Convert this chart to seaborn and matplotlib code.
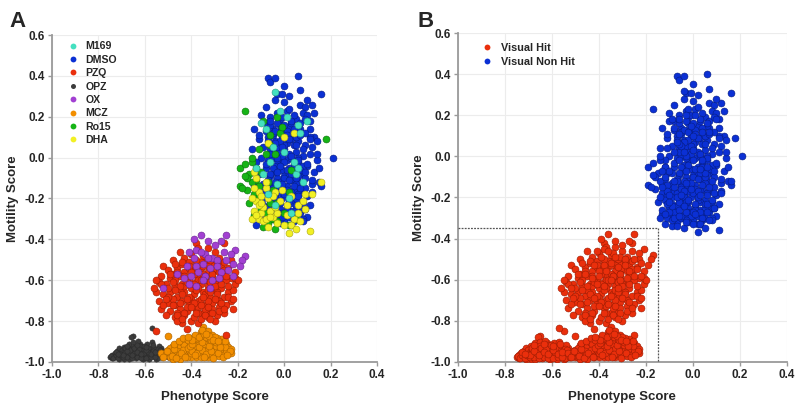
import matplotlib
matplotlib.use("Agg")
import matplotlib.pyplot as plt
from matplotlib.lines import Line2D
import seaborn as sns
import pandas as pd

# ---------------- data ----------------
dmso_x = [-0.07,-0.06,-0.04,0.06,0.16,0.21,0.12,-0.03,-0.01,0.02,0.07,0.09,-0.04,0.00,0.08,0.10,-0.10,-0.06,-0.03,0.01,
          0.05,-0.08,-0.05,-0.02,0.02,0.04,0.07,0.11,0.13,-0.13,-0.11,-0.07,-0.04,-0.01,0.01,0.03,0.06,0.09,0.12,-0.09,
          -0.06,-0.03,0.00,0.02,0.05,0.08,0.11,0.14,-0.10,-0.07,-0.05,-0.02,0.01,0.04,0.06,0.10,-0.08,-0.04,-0.01,0.02,
          0.05,0.08,0.13,-0.11,-0.06,-0.03,0.00,0.03,0.06,0.09,0.12,0.16,-0.09,-0.05,-0.02,0.01,0.04,0.07,0.10,-0.13,
          -0.07,-0.04,-0.01,0.02,0.05,0.08,0.11,-0.09,-0.05,-0.02,0.01,0.03,0.07,0.10,-0.06,-0.03,0.00,0.04,0.08,-0.12,
          -0.02,0.02,-0.03,0.00,-0.02,0.03,-0.05,0.04,-0.01,0.02,-0.04,0.05,-0.02,0.01,-0.05,0.06,0.03,-0.01,0.05,-0.07,
          0.09,0.08,0.06,-0.08,0.11,0.14,0.10,0.12,0.15,0.04,-0.01,0.07,-0.09,-0.10,0.00,-0.03,0.03,0.01,-0.06,0.09,
          0.05,-0.02,
          -0.06,-0.03,0.00,0.03,0.06,-0.05,-0.02,0.01,0.04,0.07,-0.07,-0.04,-0.01,0.02,0.05,0.08,-0.06,-0.03,0.00,0.03,
          0.06,-0.08,-0.05,-0.02,0.01,0.04,0.07,-0.06,-0.03,0.00,0.03,0.06,0.09,-0.07,-0.04,-0.01,0.02,0.05,-0.05,-0.02,
          0.01,0.04,0.07,-0.08,-0.04,0.00,0.03,0.06,-0.06,-0.02,0.02,0.05,0.08,-0.07,-0.03,0.01,0.04,-0.05,-0.01,0.03,
          0.11,0.13,0.10,0.14,0.12,0.09,0.15,0.11,-0.11,-0.12,-0.09,-0.14,-0.10,0.07,0.09,0.08,-0.08,0.00,0.02,-0.04]
dmso_y = [0.39,0.37,0.39,0.40,0.31,0.00,0.26,0.31,0.31,0.30,0.26,0.25,0.28,0.27,0.22,0.21,0.21,0.20,0.22,0.23,
          0.19,0.17,0.14,0.16,0.15,0.12,0.14,0.14,0.10,0.14,0.09,0.10,0.08,0.10,0.07,0.09,0.08,0.06,0.05,0.05,
          0.04,0.03,0.04,0.02,0.03,0.01,0.02,-0.01,0.00,-0.01,0.00,-0.02,-0.01,-0.03,-0.02,-0.04,-0.05,-0.04,-0.06,-0.05,
          -0.07,-0.08,-0.07,-0.08,-0.09,-0.10,-0.09,-0.11,-0.12,-0.10,-0.13,-0.14,-0.13,-0.14,-0.15,-0.14,-0.16,-0.17,-0.19,-0.14,
          -0.18,-0.19,-0.20,-0.19,-0.21,-0.22,-0.23,-0.23,-0.24,-0.25,-0.24,-0.26,-0.27,-0.29,-0.28,-0.29,-0.31,-0.31,-0.30,-0.33,
          -0.32,-0.29,0.05,0.12,0.19,0.17,0.11,0.06,0.01,-0.08,-0.07,-0.13,-0.12,-0.17,-0.21,-0.18,-0.22,-0.27,-0.25,-0.26,
          -0.15,-0.04,0.00,0.13,0.10,0.08,-0.03,-0.11,-0.12,0.21,0.20,0.17,-0.20,-0.16,0.06,-0.01,0.00,0.13,0.16,0.12,
          0.10,0.08,
          0.18,0.17,0.16,0.18,0.15,0.12,0.13,0.11,0.14,0.11,0.08,0.07,0.05,0.09,0.06,0.04,0.02,0.00,-0.02,0.01,
          -0.01,-0.03,-0.05,-0.04,-0.06,-0.05,-0.06,-0.08,-0.07,-0.10,-0.08,-0.09,-0.07,-0.11,-0.12,-0.13,-0.11,-0.10,-0.15,-0.17,
          -0.16,-0.14,-0.15,-0.17,-0.20,-0.18,-0.17,-0.19,-0.21,-0.22,-0.21,-0.23,-0.25,-0.24,-0.27,-0.26,-0.28,-0.30,-0.29,-0.33,
          0.18,0.22,0.28,0.02,-0.17,-0.25,-0.05,0.09,0.11,-0.02,-0.29,0.04,-0.28,0.33,0.19,-0.31,0.25,0.35,0.24,0.13]

m169_x = [-0.04,-0.10,0.07,0.05,-0.04,0.03,-0.08,0.00,-0.06,0.04,-0.02,0.06,-0.09,-0.03,0.01,0.08,-0.07,-0.12,0.02,-0.05,0.10,0.06]
m169_y = [0.32,0.17,0.12,-0.08,-0.23,-0.27,0.14,0.03,-0.02,-0.02,0.23,0.16,-0.08,-0.13,0.20,-0.12,-0.18,-0.05,-0.20,0.05,0.18,-0.05]

ro15_x = [-0.17,0.18,-0.19,-0.19,-0.17,-0.16,-0.04,0.02,-0.07,-0.09,-0.03,-0.15,-0.14,-0.12,-0.13,-0.11,-0.10,-0.08,
          -0.12,-0.06,-0.02,-0.05,-0.03,0.00,-0.06,-0.10,-0.08,-0.04,0.02,-0.14,-0.18,-0.11,-0.05,-0.01,0.03,-0.16,
          -0.15,-0.13,-0.09,-0.07,-0.17,-0.11,-0.06,-0.03,0.05,-0.14]
ro15_y = [0.23,0.09,-0.05,-0.14,-0.03,-0.16,-0.35,-0.33,-0.32,0.18,0.20,-0.08,-0.02,-0.05,-0.18,-0.19,-0.25,-0.27,
          -0.11,0.06,0.12,-0.16,-0.22,-0.27,-0.22,-0.07,0.02,0.02,-0.17,-0.12,-0.15,0.04,-0.30,0.15,-0.06,-0.10,
          -0.22,-0.28,-0.34,-0.12,-0.09,-0.14,0.11,-0.31,-0.30,0.00]

dha_x = [0.11,0.02,0.16,0.09,-0.14,-0.13,-0.11,-0.10,-0.09,-0.07,-0.05,-0.03,0.00,0.04,0.06,0.08,-0.12,-0.11,-0.10,-0.08,
         -0.07,-0.12,-0.13,-0.04,-0.02,0.01,0.03,-0.06,-0.03,0.01,-0.09,-0.11,0.00,0.04,-0.07,0.06,-0.08,-0.14,-0.10,-0.06,
         -0.12,-0.05,0.03,-0.13,0.07,0.09,0.12,-0.01,-0.04,0.05,-0.08]
dha_y = [-0.36,-0.37,-0.12,-0.18,-0.30,-0.26,-0.30,-0.27,-0.31,-0.34,-0.29,-0.27,-0.33,-0.30,-0.23,-0.21,-0.21,-0.17,-0.19,-0.15,
         -0.20,-0.10,-0.07,-0.17,-0.21,-0.23,-0.19,-0.26,-0.32,-0.28,-0.24,-0.23,0.10,0.12,0.07,-0.27,-0.30,-0.20,-0.22,-0.29,
         -0.28,-0.19,-0.33,-0.15,-0.31,-0.25,-0.18,-0.16,-0.24,-0.35,-0.12]

pzq_x = [-0.55,-0.25,-0.42,-0.37,-0.44,-0.40,-0.38,-0.37,-0.33,-0.30,-0.26,-0.45,-0.43,-0.40,-0.35,-0.28,-0.23,-0.48,-0.41,
         -0.38,-0.34,-0.31,-0.27,-0.24,-0.21,-0.52,-0.50,-0.46,-0.43,-0.39,-0.36,-0.33,-0.30,-0.26,-0.23,-0.53,-0.49,-0.45,
         -0.41,-0.37,-0.34,-0.31,-0.28,-0.25,-0.21,-0.54,-0.51,-0.47,-0.44,-0.40,-0.36,-0.33,-0.30,-0.27,-0.24,-0.22,-0.55,
         -0.52,-0.49,-0.46,-0.43,-0.39,-0.35,-0.32,-0.29,-0.26,-0.23,-0.54,-0.50,-0.47,-0.44,-0.41,-0.37,-0.34,-0.31,-0.28,
         -0.25,-0.22,-0.53,-0.49,-0.45,-0.42,-0.38,-0.35,-0.32,-0.29,-0.26,-0.51,-0.47,-0.43,-0.39,-0.36,-0.33,-0.30,-0.46,
         -0.35,-0.32,-0.37,-0.34,-0.30,-0.36,-0.33,-0.38,-0.31,-0.29,-0.45,-0.48,-0.42,-0.40,-0.46,-0.43,-0.50,-0.27,-0.24,
         -0.34,-0.37,-0.31,-0.39,-0.41,-0.47,-0.52,-0.28,-0.33,-0.36,-0.26,-0.44,-0.48,
         -0.47,-0.44,-0.41,-0.38,-0.35,-0.32,-0.29,-0.26,-0.49,-0.46,-0.43,-0.40,-0.37,-0.34,-0.31,-0.28,-0.25,-0.48,-0.45,-0.42,
         -0.39,-0.36,-0.33,-0.30,-0.27,-0.50,-0.47,-0.44,-0.41,-0.38,-0.35,-0.32,-0.29,-0.48,-0.45,-0.42,-0.39,-0.36,-0.33,-0.30,
         -0.27,-0.24,-0.46,-0.43,-0.40,-0.37,-0.34,-0.31,-0.28,-0.51,-0.44,-0.38,-0.32,-0.26,-0.53,-0.21,-0.22,-0.20,-0.55,-0.56]
pzq_y = [-0.85,-0.87,-0.84,-0.81,-0.81,-0.80,-0.42,-0.44,-0.44,-0.46,-0.42,-0.46,-0.49,-0.47,-0.48,-0.49,-0.50,-0.50,-0.51,
         -0.52,-0.51,-0.52,-0.53,-0.54,-0.56,-0.53,-0.55,-0.54,-0.56,-0.55,-0.54,-0.56,-0.55,-0.57,-0.59,-0.58,-0.59,-0.58,
         -0.60,-0.58,-0.60,-0.59,-0.61,-0.60,-0.62,-0.61,-0.62,-0.63,-0.62,-0.64,-0.62,-0.63,-0.65,-0.64,-0.66,-0.65,-0.66,
         -0.67,-0.66,-0.68,-0.66,-0.67,-0.66,-0.68,-0.69,-0.68,-0.70,-0.70,-0.71,-0.72,-0.70,-0.71,-0.70,-0.72,-0.71,-0.73,
         -0.72,-0.74,-0.74,-0.75,-0.74,-0.75,-0.74,-0.76,-0.75,-0.77,-0.76,-0.77,-0.78,-0.77,-0.78,-0.79,-0.78,-0.80,-0.80,
         -0.57,-0.61,-0.64,-0.67,-0.62,-0.69,-0.70,-0.61,-0.57,-0.66,-0.65,-0.69,-0.73,-0.69,-0.76,-0.63,-0.64,-0.58,-0.63,
         -0.74,-0.73,-0.74,-0.57,-0.54,-0.60,-0.72,-0.70,-0.53,-0.51,-0.51,-0.52,-0.57,
         -0.52,-0.51,-0.53,-0.50,-0.53,-0.50,-0.51,-0.55,-0.57,-0.56,-0.58,-0.56,-0.60,-0.58,-0.57,-0.56,-0.58,-0.61,-0.63,-0.61,
         -0.62,-0.60,-0.65,-0.63,-0.62,-0.68,-0.65,-0.67,-0.68,-0.65,-0.68,-0.66,-0.67,-0.72,-0.71,-0.69,-0.71,-0.72,-0.73,-0.69,
         -0.71,-0.68,-0.77,-0.76,-0.73,-0.76,-0.77,-0.76,-0.75,-0.69,-0.79,-0.76,-0.79,-0.74,-0.62,-0.59,-0.69,-0.60,-0.60,-0.64]

ox_x = [-0.36,-0.25,-0.17,-0.18,-0.21,-0.27,-0.52,-0.39,-0.41,-0.39,-0.38,-0.34,-0.31,-0.29,-0.26,-0.23,-0.22,-0.19,-0.24,
        -0.27,-0.29,-0.32,-0.35,-0.38,-0.42,-0.43,-0.40,-0.37,-0.34,-0.31,-0.28,-0.33,-0.36,-0.41,-0.38,-0.35,-0.25,-0.30,
        -0.33,-0.46,-0.22,-0.32]
ox_y = [-0.38,-0.38,-0.48,-0.50,-0.45,-0.41,-0.64,-0.40,-0.46,-0.49,-0.45,-0.47,-0.49,-0.50,-0.46,-0.47,-0.52,-0.53,-0.55,
        -0.56,-0.53,-0.54,-0.52,-0.53,-0.53,-0.59,-0.58,-0.56,-0.58,-0.60,-0.59,-0.49,-0.46,-0.62,-0.63,-0.60,-0.50,-0.43,
        -0.41,-0.57,-0.58,-0.64]

opz_x = [-0.57,-0.65,-0.66,-0.75,-0.74,-0.73,-0.72,-0.71,-0.70,-0.70,-0.69,-0.68,-0.68,-0.67,-0.66,-0.66,-0.65,-0.64,-0.64,
         -0.63,-0.62,-0.62,-0.61,-0.60,-0.60,-0.59,-0.58,-0.58,-0.57,-0.56,-0.55,-0.55,-0.54,-0.53,-0.52,-0.51,-0.50,-0.72,
         -0.71,-0.69,-0.67,-0.65,-0.63,-0.61,-0.59,-0.57,-0.69,-0.67,-0.64,-0.61,-0.58,-0.55,-0.53,-0.68,-0.66,-0.64,-0.62,
         -0.60,-0.58,-0.56,-0.54,-0.73,-0.70,-0.63,-0.61,-0.59,-0.52,-0.62,-0.66,-0.69,-0.71,-0.74,-0.57,-0.56,-0.60,-0.65,-0.67,
         -0.745,-0.735,-0.725,-0.715,-0.705,-0.695,-0.685,-0.675,-0.665,-0.655,-0.645,-0.635,-0.625,-0.615,-0.605,-0.595,-0.585,-0.575,-0.565,-0.555,
         -0.545,-0.535,-0.525,-0.515,-0.505,-0.725,-0.705,-0.685,-0.665,-0.645,-0.625,-0.605,-0.585,-0.565,-0.545,-0.525,-0.695,-0.675,-0.655,-0.635,
         -0.615,-0.595,-0.575,-0.555,-0.535,-0.715,-0.675,-0.635,-0.595,-0.555]
opz_y = [-0.835,-0.875,-0.878,-0.975,-0.965,-0.975,-0.96,-0.97,-0.95,-0.975,-0.96,-0.94,-0.97,-0.955,-0.93,-0.975,-0.95,-0.92,-0.965,
         -0.94,-0.91,-0.975,-0.95,-0.93,-0.97,-0.955,-0.94,-0.975,-0.925,-0.96,-0.94,-0.975,-0.955,-0.93,-0.965,-0.95,-0.975,-0.945,
         -0.93,-0.925,-0.91,-0.905,-0.90,-0.925,-0.91,-0.95,-0.985,-0.985,-0.98,-0.985,-0.985,-0.985,-0.975,-0.955,-0.945,-0.94,-0.955,
         -0.945,-0.96,-0.93,-0.92,-0.955,-0.94,-0.965,-0.94,-0.97,-0.945,-0.92,-0.96,-0.945,-0.985,-0.98,-0.905,-0.95,-0.96,-0.925,-0.935,
         -0.97,-0.98,-0.965,-0.98,-0.965,-0.975,-0.95,-0.975,-0.955,-0.98,-0.955,-0.975,-0.945,-0.98,-0.955,-0.98,-0.95,-0.975,-0.945,-0.965,
         -0.98,-0.95,-0.975,-0.96,-0.965,-0.95,-0.96,-0.93,-0.94,-0.93,-0.935,-0.92,-0.93,-0.915,-0.935,-0.955,-0.965,-0.945,-0.965,-0.95,
         -0.96,-0.94,-0.96,-0.975,-0.94,-0.96,-0.92,-0.915,-0.925,-0.95]

mcz_x = [-0.53,-0.50,-0.35,-0.36,-0.33,-0.51,-0.50,-0.49,-0.48,-0.48,-0.47,-0.46,-0.46,-0.45,-0.44,-0.44,-0.43,-0.42,-0.42,
         -0.41,-0.40,-0.40,-0.39,-0.39,-0.38,-0.38,-0.37,-0.37,-0.36,-0.36,-0.35,-0.34,-0.34,-0.33,-0.33,-0.32,-0.31,-0.31,
         -0.30,-0.30,-0.29,-0.28,-0.28,-0.27,-0.26,-0.26,-0.25,-0.24,-0.23,-0.24,-0.29,-0.32,-0.35,-0.41,-0.45,-0.47,-0.43,
         -0.40,-0.37,-0.34,-0.31,-0.27,-0.25,-0.29,-0.32,-0.35,-0.38,-0.41,-0.44,-0.46,-0.49,-0.52,-0.39,-0.36,-0.33,-0.30,
         -0.27,-0.42,-0.48,-0.45,-0.40,-0.34,-0.28,-0.37,-0.43,-0.30,-0.26,-0.23,
         -0.495,-0.475,-0.455,-0.435,-0.415,-0.395,-0.375,-0.355,-0.335,-0.315,-0.295,-0.275,-0.255,-0.235,-0.485,-0.465,-0.445,-0.425,-0.405,-0.385,
         -0.365,-0.345,-0.325,-0.305,-0.285,-0.265,-0.245,-0.475,-0.455,-0.435,-0.415,-0.395,-0.375,-0.355,-0.335,-0.315,-0.295,-0.275,-0.255,-0.385,
         -0.365,-0.345,-0.325,-0.305,-0.355,-0.335,-0.395,-0.415,-0.285,-0.505]
mcz_y = [-0.955,-0.875,-0.83,-0.855,-0.85,-0.96,-0.94,-0.975,-0.92,-0.955,-0.94,-0.975,-0.91,-0.95,-0.93,-0.97,-0.895,-0.945,-0.92,
         -0.965,-0.90,-0.935,-0.88,-0.955,-0.915,-0.975,-0.94,-0.875,-0.90,-0.96,-0.925,-0.89,-0.95,-0.91,-0.975,-0.935,-0.87,-0.955,
         -0.90,-0.93,-0.965,-0.915,-0.945,-0.89,-0.93,-0.96,-0.91,-0.945,-0.955,-0.925,-0.885,-0.895,-0.87,-0.91,-0.925,-0.96,-0.955,
         -0.975,-0.905,-0.925,-0.915,-0.95,-0.94,-0.94,-0.96,-0.945,-0.935,-0.94,-0.905,-0.945,-0.93,-0.975,-0.92,-0.975,-0.935,-0.965,
         -0.91,-0.975,-0.985,-0.985,-0.955,-0.97,-0.97,-0.89,-0.915,-0.88,-0.905,-0.935,
         -0.95,-0.935,-0.965,-0.94,-0.93,-0.945,-0.955,-0.94,-0.96,-0.945,-0.92,-0.935,-0.925,-0.945,-0.97,-0.98,-0.955,-0.975,-0.92,-0.965,
         -0.925,-0.975,-0.92,-0.98,-0.955,-0.975,-0.965,-0.91,-0.90,-0.885,-0.895,-0.91,-0.885,-0.905,-0.88,-0.895,-0.905,-0.925,-0.90,-0.87,
         -0.88,-0.865,-0.875,-0.895,-0.845,-0.865,-0.895,-0.88,-0.90,-0.945]

legend_order = ["M169", "DMSO", "PZQ", "OPZ", "OX", "MCZ", "Ro15", "DHA"]
hit_groups = ["PZQ", "OX", "OPZ", "MCZ"]
x_ticks = [-1.0, -0.8, -0.6, -0.4, -0.2, 0.0, 0.2, 0.4]
y_ticks = [-1.0, -0.8, -0.6, -0.4, -0.2, 0.0, 0.2, 0.4, 0.6]
hit_box = (-0.15, -0.35)

# ---------------- styling ----------------
colors = {"M169": "#44e0c0", "DMSO": "#0b30d4", "PZQ": "#ea2f0c", "OPZ": "#3c3c3c",
          "OX": "#a240d2", "MCZ": "#f28e00", "Ro15": "#16b416", "DHA": "#f2f024"}
edges = {"M169": "#2a9a84", "DMSO": "#061c80", "PZQ": "#9a1c04", "OPZ": "#2a2a2a",
         "OX": "#6a2490", "MCZ": "#a86200", "Ro15": "#0c700c", "DHA": "#a8a410"}
hit_col, hit_edge = "#ea2f0c", "#9a1c04"
non_col, non_edge = "#0b30d4", "#061c80"

data = {"DMSO": (dmso_x, dmso_y), "M169": (m169_x, m169_y), "Ro15": (ro15_x, ro15_y),
        "DHA": (dha_x, dha_y), "PZQ": (pzq_x, pzq_y), "OX": (ox_x, ox_y),
        "OPZ": (opz_x, opz_y), "MCZ": (mcz_x, mcz_y)}
frames = []
for g, (xs, ys) in data.items():
    frames.append(pd.DataFrame({"x": xs, "y": ys, "group": g}))
df = pd.concat(frames, ignore_index=True)
df["hit"] = df["group"].isin(hit_groups).map({True: "Visual Hit", False: "Visual Non Hit"})

sns.set_theme(style="white")
plt.rcParams["font.family"] = ["Liberation Sans", "DejaVu Sans"]
plt.rcParams["font.weight"] = "bold"

fig = plt.figure(figsize=(7.99, 4.08), dpi=100)
axA = fig.add_axes([0.065, 0.113, 0.407, 0.801])
axB = fig.add_axes([0.573, 0.113, 0.412, 0.806])

def style(ax):
    ax.set_xlim(-1.0, 0.4)
    ax.set_ylim(-1.0, 0.6)
    ax.set_xticks(x_ticks)
    ax.set_yticks(y_ticks)
    ax.set_xticklabels([f"{t:.1f}" for t in x_ticks], fontsize=8.5, fontweight="bold")
    ax.set_yticklabels([f"{t:.1f}" for t in y_ticks], fontsize=8.5, fontweight="bold")
    ax.grid(True, color="#ececec", linewidth=0.8)
    ax.set_axisbelow(True)
    for s in ["top", "right"]:
        ax.spines[s].set_visible(False)
    for s in ["left", "bottom"]:
        ax.spines[s].set_color("#9a9a9a")
        ax.spines[s].set_linewidth(1.3)
    ax.tick_params(axis="both", which="both", length=3, width=1, color="#9a9a9a",
                   direction="out", pad=2, left=True, bottom=True)
    ax.set_xlabel("Phenotype Score", fontsize=9.5, fontweight="bold")
    ax.set_ylabel("Motility Score", fontsize=9.5, fontweight="bold")
    ax.yaxis.set_label_coords(-0.10, 0.5)
    ax.xaxis.set_label_coords(0.5, -0.09)

# Panel A
plot_order = ["OPZ", "MCZ", "PZQ", "OX", "DMSO", "Ro15", "DHA", "M169"]
for g in plot_order:
    sub = df[df["group"] == g]
    sns.scatterplot(data=sub, x="x", y="y", ax=axA, color=colors[g],
                    s=14 if g == "OPZ" else 25, edgecolor=edges[g],
                    linewidth=0.4, legend=False, zorder=3)
style(axA)
handlesA = [Line2D([], [], marker="o", linestyle="", markersize=3.6 if g == "OPZ" else 4.2,
                   markerfacecolor=colors[g], markeredgewidth=0, label=g) for g in legend_order]
legA = axA.legend(handles=handlesA, loc="upper left", bbox_to_anchor=(0.025, 1.0), frameon=False,
                  fontsize=7.6, handletextpad=0.6, labelspacing=0.32, borderaxespad=0.2,
                  handlelength=1.2)
for t in legA.get_texts():
    t.set_fontweight("bold")

# Panel B
for lab, fc, ec in [("Visual Non Hit", non_col, non_edge), ("Visual Hit", hit_col, hit_edge)]:
    sub = df[df["hit"] == lab]
    sns.scatterplot(data=sub, x="x", y="y", ax=axB, color=fc, s=25, edgecolor=ec,
                    linewidth=0.4, legend=False, zorder=3)
axB.plot([-1.0, hit_box[0], hit_box[0]], [hit_box[1], hit_box[1], -1.0],
         linestyle=(0, (1.5, 1)), color="#555555", linewidth=0.9, zorder=4)
style(axB)
handlesB = [Line2D([], [], marker="o", linestyle="", markersize=4.2, markerfacecolor=c,
                   markeredgewidth=0, label=l)
            for l, c in [("Visual Hit", hit_col), ("Visual Non Hit", non_col)]]
legB = axB.legend(handles=handlesB, loc="upper left", bbox_to_anchor=(0.04, 1.0), frameon=False,
                  fontsize=7.8, handletextpad=0.7, labelspacing=0.35, handlelength=1.2)
for t in legB.get_texts():
    t.set_fontweight("bold")

fig.text(0.012, 0.935, "A", fontsize=16, fontweight="bold")
fig.text(0.523, 0.935, "B", fontsize=16, fontweight="bold")

fig.savefig("out.png", dpi=100)
